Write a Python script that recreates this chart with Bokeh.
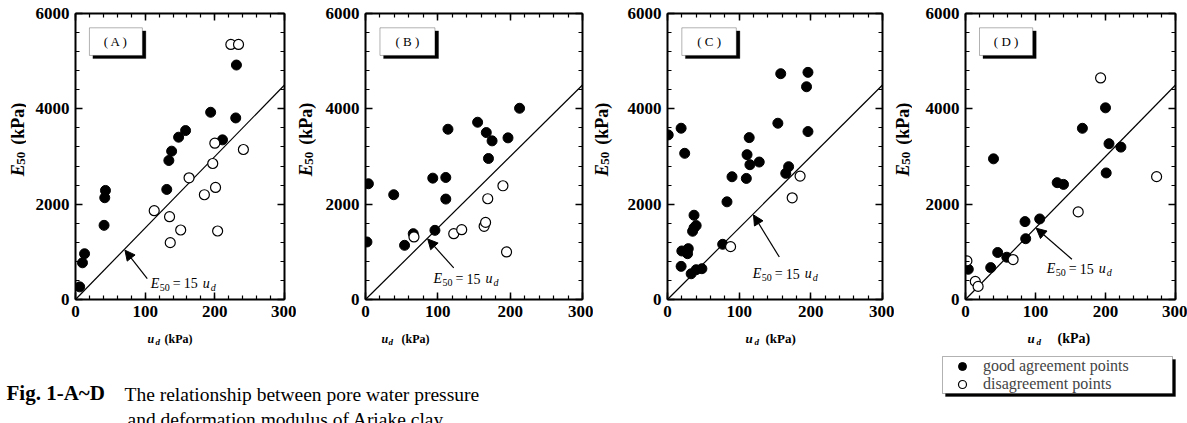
from math import pi
from bokeh.plotting import figure
from bokeh.layouts import row, column
from bokeh.models import (Range1d, LinearAxis, FixedTicker, Label, Arrow, NormalHead,
                          BoxAnnotation, Legend, LegendItem)
from bokeh.embed import file_html
from bokeh.resources import INLINE

FONT = "Liberation Serif"
NAN = float("nan")

# ---------------- data ----------------
A_good_ud = [6, 10, 13, 41, 42, 43, 131, 134, 138, 148, 158, 194, 211, 230, 231]
A_good_e = [265, 770, 960, 1556, 2135, 2288, 2309, 2916, 3112, 3405, 3544, 3928, 3349, 3809, 4919]
A_bad_ud = [113, 135, 136, 151, 163, 185, 201, 197, 200, 204, 223, 234, 241]
A_bad_e = [1863, 1737, 1193, 1458, 2553, 2198, 2351, 2853, 3279, 1437, 5351, 5351, 3147]

B_good_ud = [2, 4, 39, 54, 66, 93, 96, 111, 111, 114, 155, 167, 175, 170, 197, 213]
B_good_e = [1207, 2428, 2198, 1137, 1381, 2546, 1451, 2560, 2107, 3572, 3719, 3502, 3328, 2958, 3391, 4012]
B_bad_ud = [67, 122, 133, 164, 166, 169, 190, 195]
B_bad_e = [1312, 1381, 1465, 1535, 1618, 2114, 2386, 998]

C_good_ud = [1, 19, 24, 20, 19, 28, 29, 33, 40, 37, 35, 37, 40, 48, 77, 83, 90, 110, 111,
             114, 115, 128, 154, 158, 165, 169, 194, 196, 196]
C_good_e = [3453, 3593, 3067, 1018, 695, 961, 1067, 540, 625, 1768, 1432, 1502, 1551, 646, 1158,
            2049, 2575, 2540, 3039, 3396, 2828, 2884, 3698, 4737, 2646, 2786, 4463, 4765, 3523]
C_bad_ud = [88, 174, 185]
C_bad_e = [1109, 2133, 2589]

D_good_ud = [4, 36, 40, 46, 59, 85, 86, 106, 131, 140, 167, 200, 201, 205, 222]
D_good_e = [634, 669, 2951, 986, 887, 1634, 1275, 1690, 2451, 2415, 3592, 4021, 2655, 3268, 3197]
D_bad_ud = [2, 14, 18, 68, 161, 193, 273]
D_bad_e = [810, 380, 275, 838, 1838, 4648, 2577]

X_TICKS = [0, 100, 200, 300]
Y_TICKS = [0, 2000, 4000, 6000]
X_MINOR = list(range(0, 301, 20))
Y_MINOR = list(range(0, 6001, 400))

SLOPE = 15
LINE_UD = [0, 300]
LINE_E = [SLOPE * u for u in LINE_UD]

LEGEND_LABELS = ["good agreement points", "disagreement points"]
CAPTION_BOLD = "Fig. 1-A~D"
CAPTION_1 = "The relationship between pore water pressure"
CAPTION_2 = "and deformation modulus of Ariake clay"

# ---------------- layout (pixels) ----------------
TOP_H = 327          # height of the row of panels
FRAME_TOP = 13
FRAME_H = 286
BOTTOM_H = 96        # caption / legend strip

PANELS = [
    dict(letter="A", good=(A_good_ud, A_good_e), bad=(A_bad_ud, A_bad_e),
         yw=26, yx=17, bl=49, fw=209, br=12,
         eq=(108, 345), arrow=((103, 440), (71, 1035))),
    dict(letter="B", good=(B_good_ud, B_good_e), bad=(B_bad_ud, B_bad_e),
         yw=20, yx=9, bl=49, fw=217, br=11,
         eq=(94, 432), arrow=((122, 663), (86, 1270))),
    dict(letter="C", good=(C_good_ud, C_good_e), bad=(C_bad_ud, C_bad_e),
         yw=20, yx=8, bl=54, fw=215, br=12,
         eq=(119, 540), arrow=((156, 891), (120, 1775))),
    dict(letter="D", good=(D_good_ud, D_good_e), bad=(D_bad_ud, D_bad_e),
         yw=18, yx=8, bl=53, fw=210, br=12,
         eq=(116, 648), arrow=((152, 845), (101, 1495))),
]

# x-axis label pieces (u, d, (kPa)) : x of u, x of d, x of (kPa), font sizes
XLABELS = [
    dict(u=147, d=155, k=164, fu=12, fk=12),
    dict(u=381, d=388, k=401, fu=12, fk=12),
    dict(u=745, d=754, k=765, fu=13, fk=13),
    dict(u=1027, d=1036, k=1057, fu=13, fk=14),
]
XLABEL_Y = 423 - 338


def style_axis(ax, ticker, show_labels):
    ax.ticker = ticker
    ax.axis_line_width = 2
    ax.axis_line_color = "black"
    ax.major_tick_in = 7
    ax.major_tick_out = 0
    ax.minor_tick_in = 4
    ax.minor_tick_out = 0
    ax.major_tick_line_width = 1.5
    ax.minor_tick_line_width = 1.2
    ax.major_tick_line_color = "black"
    ax.minor_tick_line_color = "black"
    if show_labels:
        ax.major_label_text_font = FONT
        ax.major_label_text_font_style = "bold"
        ax.major_label_text_font_size = "17px"
        ax.major_label_text_color = "black"
        ax.major_label_standoff = 6
    else:
        ax.major_label_text_font_size = "0px"
        ax.major_label_standoff = 0
        ax.major_label_overrides = {t: "" for t in ticker.ticks}


def lab(p, text, x, y, size, style="normal", units="data", **kw):
    p.add_layout(Label(x=x, y=y, x_units=units, y_units=units, text=text,
                       text_font=FONT, text_font_size=f"{size}px", text_font_style=style,
                       text_color="black", **kw))


def blank_fig(w, h):
    f = figure(width=w, height=h, x_range=Range1d(0, w), y_range=Range1d(0, h),
               x_axis_type=None, y_axis_type=None, min_border=0,
               toolbar_location=None, output_backend="svg")
    f.outline_line_color = None
    return f


def make_ylabel(cfg):
    f = blank_fig(cfg["yw"], TOP_H)
    x = cfg["yx"]
    yb = TOP_H - 186          # bottom of the rotated text
    lab(f, "E", x, yb, 18, style="bold italic", angle=pi / 2,
        text_baseline="middle", text_align="left")
    lab(f, "50", x + 3, yb + 13, 13, style="bold", angle=pi / 2,
        text_baseline="middle", text_align="left")
    lab(f, "(kPa)", x, yb + 36, 18, style="bold", angle=pi / 2,
        text_baseline="middle", text_align="left")
    return f


def make_panel(cfg):
    p = figure(frame_width=cfg["fw"], frame_height=FRAME_H,
               min_border_left=cfg["bl"], min_border_right=cfg["br"],
               min_border_top=FRAME_TOP, min_border_bottom=TOP_H - FRAME_TOP - FRAME_H,
               x_range=Range1d(0, 300), y_range=Range1d(0, 6000),
               x_axis_type=None, y_axis_type=None,
               toolbar_location=None, output_backend="svg")
    p.outline_line_color = None
    p.background_fill_color = "white"
    p.border_fill_color = "white"

    for side, ticks, minor, show in (("below", X_TICKS, X_MINOR, True),
                                     ("left", Y_TICKS, Y_MINOR, True),
                                     ("above", X_TICKS, X_MINOR, False),
                                     ("right", Y_TICKS, Y_MINOR, False)):
        ax = LinearAxis()
        style_axis(ax, FixedTicker(ticks=ticks, minor_ticks=minor), show)
        p.add_layout(ax, side)

    # reference line E50 = 15 ud
    p.line(LINE_UD, LINE_E, line_color="black", line_width=1.2)

    gx, gy = cfg["good"]
    bx, by = cfg["bad"]
    p.scatter(gx, gy, marker="circle", size=10, fill_color="black", line_color="black")
    p.scatter(bx, by, marker="circle", size=10, fill_color="white", line_color="black",
              line_width=1.2)

    # panel tag box with drop shadow
    p.add_layout(BoxAnnotation(left=25, right=101, bottom=5055, top=5635,
                               fill_color="black", fill_alpha=1, line_color="black"))
    p.add_layout(BoxAnnotation(left=20, right=96, bottom=5120, top=5700,
                               fill_color="white", fill_alpha=1, line_color="black",
                               line_width=1))
    lab(p, f"( {cfg['letter']} )", 58, 5410, 13, text_align="center", text_baseline="middle")

    # equation annotation with arrow
    (tx, ty), (hx, hy) = cfg["arrow"]
    p.add_layout(Arrow(x_start=tx, y_start=ty, x_end=hx, y_end=hy, line_width=1.2,
                       line_color="black",
                       end=NormalHead(size=10, fill_color="black", line_color="black")))
    ex, ey = cfg["eq"]
    pieces = [("E", 0, 0, 14, "italic"), ("50", 9, -4, 10, "normal"),
              ("=", 22, 0, 14, "normal"), ("15", 33, 0, 14, "normal"),
              ("u", 52, 0, 14, "italic"), ("d", 60, -4, 10, "italic")]
    for t, dx, dy, fs, st in pieces:
        lab(p, t, ex, ey, fs, style=st, x_offset=dx, y_offset=dy, text_baseline="middle")
    return p


top = []
for cfg in PANELS:
    top.append(make_ylabel(cfg))
    top.append(make_panel(cfg))
TOTAL_W = sum(c["yw"] + c["bl"] + c["fw"] + c["br"] for c in PANELS)

# ---------------- strip below: x-axis labels, caption, legend ----------------
cap = blank_fig(TOTAL_W, BOTTOM_H)

for xl in XLABELS:
    lab(cap, "u", xl["u"], XLABEL_Y, xl["fu"], style="bold italic", text_baseline="middle")
    lab(cap, "d", xl["d"], XLABEL_Y - 3, 9, style="bold italic", text_baseline="middle")
    lab(cap, "(kPa)", xl["k"], XLABEL_Y, xl["fk"], style="bold", text_baseline="middle")

lab(cap, CAPTION_BOLD, 6, 19, 21, style="bold")
lab(cap, CAPTION_1, 124, 19, 19.5)
lab(cap, CAPTION_2, 127, -6, 19.5)

BOX_L, BOX_R, BOX_T, BOX_B = 942, 1172, 423 - 356, 423 - 393
cap.add_layout(BoxAnnotation(left=BOX_L + 3, right=BOX_R + 3, bottom=BOX_B - 3, top=BOX_T - 3,
                             fill_color="black", fill_alpha=1, line_color="black"))
cap.add_layout(BoxAnnotation(left=BOX_L, right=BOX_R, bottom=BOX_B, top=BOX_T,
                             fill_color="white", fill_alpha=1, line_color="black",
                             line_width=1))
r_good = cap.scatter(x=[NAN], y=[NAN], marker="circle", size=10, fill_color="black",
                     line_color="black")
r_bad = cap.scatter(x=[NAN], y=[NAN], marker="circle", size=10, fill_color="white",
                    line_color="black", line_width=1.2)

ROW_H = 20
ROW_CENTERS = [423 - 365.5, 423 - 383.5]   # vertical centres of the two legend rows
for label_text, rend, yc in zip(LEGEND_LABELS, (r_good, r_bad), ROW_CENTERS):
    lg = Legend(items=[LegendItem(label=label_text, renderers=[rend])],
                location=(BOX_L, yc - ROW_H / 2), padding=0, spacing=0, margin=0,
                glyph_width=40, glyph_height=ROW_H, label_standoff=1,
                label_height=14,
                label_text_font=FONT, label_text_font_size="16px",
                border_line_color=None, background_fill_alpha=0)
    cap.add_layout(lg)

layout = column(row(*top), cap)
open("out.html", "w").write(file_html(layout, INLINE))
